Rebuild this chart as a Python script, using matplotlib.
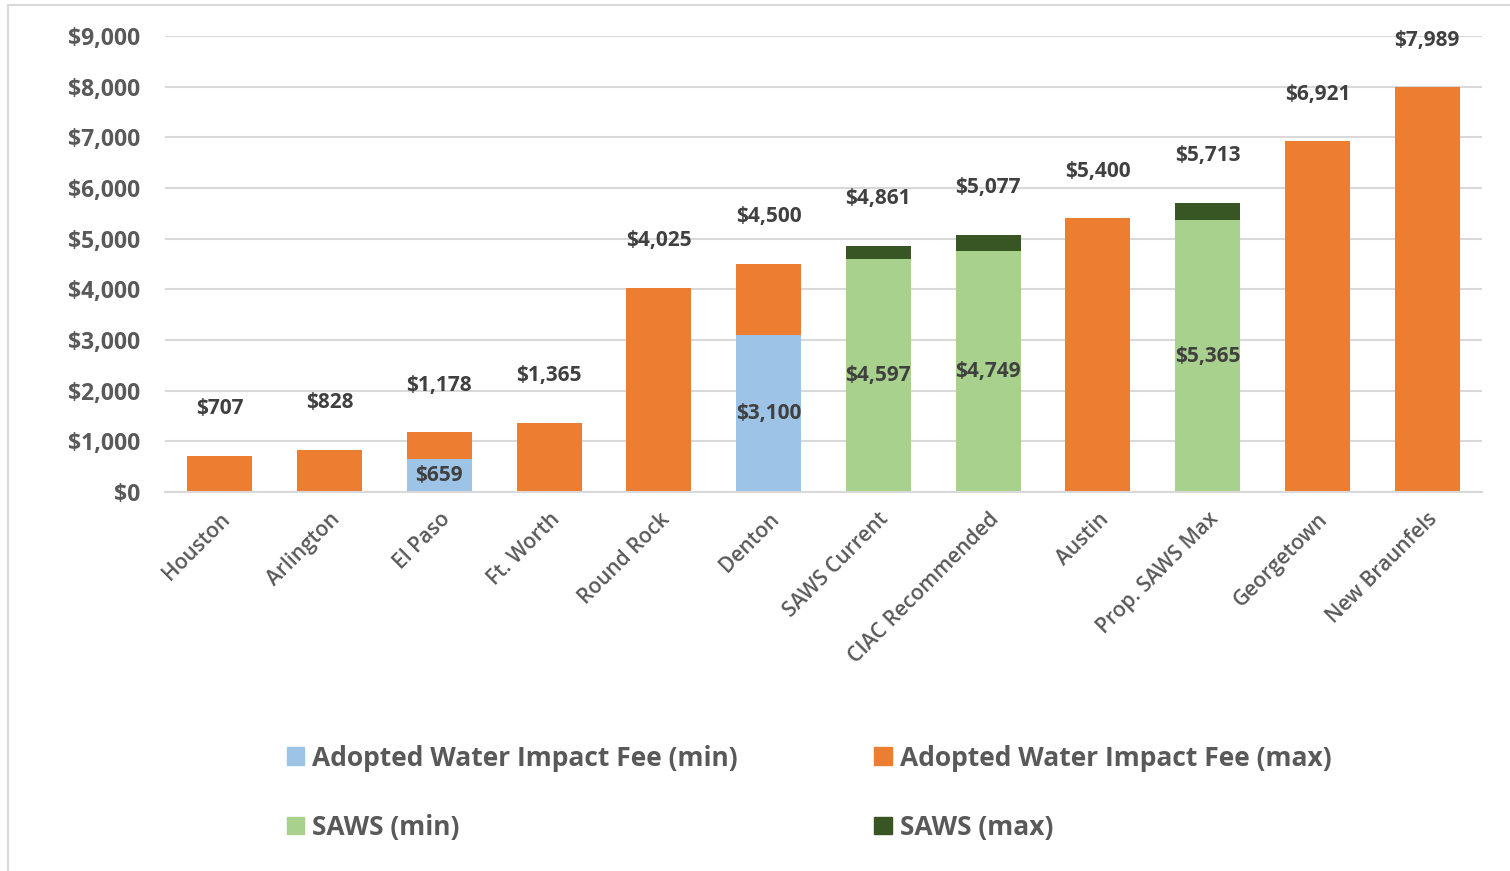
import matplotlib
matplotlib.use("Agg")
import matplotlib.pyplot as plt
from matplotlib.patches import Rectangle, Patch

plt.rcParams['font.family'] = ['Open Sans', 'DejaVu Sans']
plt.rcParams['font.weight'] = 'bold'

cities = ["Houston", "Arlington", "El Paso", "Ft. Worth", "Round Rock", "Denton",
          "SAWS Current", "CIAC Recommended", "Austin", "Prop. SAWS Max",
          "Georgetown", "New Braunfels"]
adopted_min = [0, 0, 659, 0, 0, 3100, 0, 0, 0, 0, 0, 0]
adopted_max = [707, 828, 1178, 1365, 4025, 4500, 0, 0, 5400, 0, 6921, 7989]
saws_min = [0, 0, 0, 0, 0, 0, 4597, 4749, 0, 5365, 0, 0]
saws_max = [0, 0, 0, 0, 0, 0, 4861, 5077, 0, 5713, 0, 0]

c_blue = "#9DC3E6"
c_orange = "#ED7D31"
c_lgreen = "#A9D18E"
c_dgreen = "#375623"
txt = "#404040"
tick_c = "#595959"
grid_c = "#D9D9D9"

fig = plt.figure(figsize=(15.1, 8.71), dpi=100)
fig.patches.append(Rectangle((8/1510, -0.1), 1.1, 1 - 5/871 + 0.1, transform=fig.transFigure,
                             fill=False, edgecolor=grid_c, linewidth=1.5))
ax = fig.add_axes([165/1510, 1 - 492/871, 1317/1510, 456/871])

x = range(len(cities))
w = 0.59
totals = []
for i in x:
    if saws_max[i]:
        ax.bar(i, saws_min[i], w, color=c_lgreen)
        ax.bar(i, saws_max[i] - saws_min[i], w, bottom=saws_min[i], color=c_dgreen)
        ax.text(i, saws_min[i] / 2, "${:,}".format(saws_min[i]), ha="center", va="center",
                fontsize=15, color=txt, fontweight="bold")
        totals.append(saws_max[i])
    else:
        ax.bar(i, adopted_min[i], w, color=c_blue)
        ax.bar(i, adopted_max[i] - adopted_min[i], w, bottom=adopted_min[i], color=c_orange)
        if adopted_min[i]:
            ax.text(i, adopted_min[i] / 2, "${:,}".format(adopted_min[i]), ha="center", va="center",
                    fontsize=15, color=txt, fontweight="bold")
        totals.append(adopted_max[i])

for i, t in enumerate(totals):
    ax.annotate("${:,}".format(t), (i, t), xytext=(0, 34), textcoords="offset points",
                ha="center", va="center", fontsize=15, color=txt, fontweight="bold")

ax.set_xlim(-0.5, len(cities) - 0.5)
ax.set_ylim(0, 9000)
ax.set_yticks(range(0, 9001, 1000))
ax.set_yticklabels(["${:,}".format(v) for v in range(0, 9001, 1000)])
ax.set_xticks(list(x))
ax.set_xticklabels(cities, rotation=45, ha="right", rotation_mode="anchor")
ax.tick_params(axis="y", length=0, pad=18, labelsize=16.5, labelcolor=tick_c)
ax.tick_params(axis="x", length=0, pad=12, labelsize=15, labelcolor=tick_c)
for lab in ax.get_xticklabels():
    lab.set_fontweight("semibold")
ax.grid(axis="y", color=grid_c, linewidth=1.5)
ax.set_axisbelow(True)
for s in ["top", "right", "left"]:
    ax.spines[s].set_visible(False)
ax.spines["bottom"].set_color(grid_c)
ax.spines["bottom"].set_linewidth(1.5)

handles = [Patch(color=c_blue), Patch(color=c_lgreen), Patch(color=c_orange), Patch(color=c_dgreen)]
labels = ["Adopted Water Impact Fee (min)", "SAWS (min)",
          "Adopted Water Impact Fee (max)", "SAWS (max)"]
leg = fig.legend(handles, labels, ncol=2, loc="upper left", bbox_to_anchor=(276/1510, 1 - 734/871),
                 frameon=False, fontsize=19, handlelength=0.65, handleheight=0.65,
                 handletextpad=0.3, columnspacing=5.2, labelspacing=1.6, borderaxespad=0)
for t in leg.get_texts():
    t.set_color(tick_c)

fig.savefig("out.png", dpi=100)
